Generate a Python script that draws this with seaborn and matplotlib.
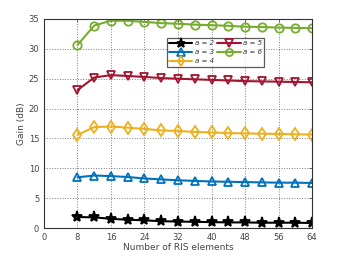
import matplotlib

matplotlib.use("Agg")
import matplotlib.pyplot as plt
import pandas as pd
import seaborn as sns

# data
n_elements = [8, 12, 16, 20, 24, 28, 32, 36, 40, 44, 48, 52, 56, 60, 64]
gain_a2 = [1.85, 1.8, 1.55, 1.4, 1.3, 1.15, 1.1, 1.05, 1.0, 0.95, 0.95, 0.9, 0.9, 0.9, 0.85]
gain_a3 = [8.5, 8.8, 8.7, 8.55, 8.3, 8.15, 8.0, 7.9, 7.8, 7.75, 7.7, 7.65, 7.6, 7.6, 7.55]
gain_a4 = [15.6, 16.9, 17.0, 16.8, 16.6, 16.35, 16.25, 16.1, 16.0, 15.9, 15.85, 15.8, 15.75, 15.7, 15.65]
gain_a5 = [23.1, 25.2, 25.6, 25.45, 25.3, 25.1, 25.0, 24.9, 24.8, 24.7, 24.6, 24.55, 24.5, 24.45, 24.4]
gain_a6 = [30.65, 33.9, 34.7, 34.7, 34.5, 34.3, 34.2, 34.05, 33.95, 33.85, 33.7, 33.65, 33.55, 33.5, 33.45]
labels = ["a = 2", "a = 3", "a = 4", "a = 5", "a = 6"]

series = [gain_a2, gain_a3, gain_a4, gain_a5, gain_a6]
colors = ["#000000", "#0072BD", "#EDB120", "#A2142F", "#77AC30"]
markers = ["*", "^", "d", "v", "o"]

sns.set_style("white")
plt.rcParams["font.family"] = ["DejaVu Sans"]

fig = plt.figure(figsize=(3.41, 2.56), dpi=100)
ax = fig.add_axes([0.129, 0.109, 0.786, 0.817])

for vals, lab, col, mk in zip(series, labels, colors, markers):
    df = pd.DataFrame({"N": n_elements, "gain": vals})
    filled = mk == "*"
    sns.lineplot(data=df, x="N", y="gain", ax=ax, color=col, lw=1.5,
                 marker=mk, markersize=8 if filled else 6,
                 markerfacecolor=col if filled else "none",
                 markeredgecolor=col, markeredgewidth=1.3, label=lab)

ax.set_xlim(0, 64)
ax.set_ylim(0, 35)
ax.set_xticks(range(0, 65, 8))
ax.set_yticks(range(0, 36, 5))
ax.grid(True, linestyle=":", color="#444444", lw=0.7, alpha=0.7)
ax.tick_params(direction="in", length=2, labelsize=6, colors="#333333",
               labelcolor="#444444", top=True, right=True, width=0.5)
for sp in ax.spines.values():
    sp.set_color("#333333")
    sp.set_linewidth(0.8)
ax.set_xlabel("Number of RIS elements", fontsize=6.5, color="#444444", labelpad=1)
ax.set_ylabel("Gain (dB)", fontsize=6.5, color="#444444", labelpad=2)

leg = ax.legend(ncol=2, loc="upper left", bbox_to_anchor=(0.445, 0.925),
                frameon=True, fancybox=False, handlelength=3.4, markerscale=0.85,
                columnspacing=0.5, handletextpad=0.3, labelspacing=0.45,
                borderpad=0.3, prop={"style": "italic", "size": 5})
leg.get_frame().set_edgecolor("#333333")
leg.get_frame().set_linewidth(0.9)
for t in leg.get_texts():
    t.set_color("#333333")

fig.savefig("out.png", dpi=100)
